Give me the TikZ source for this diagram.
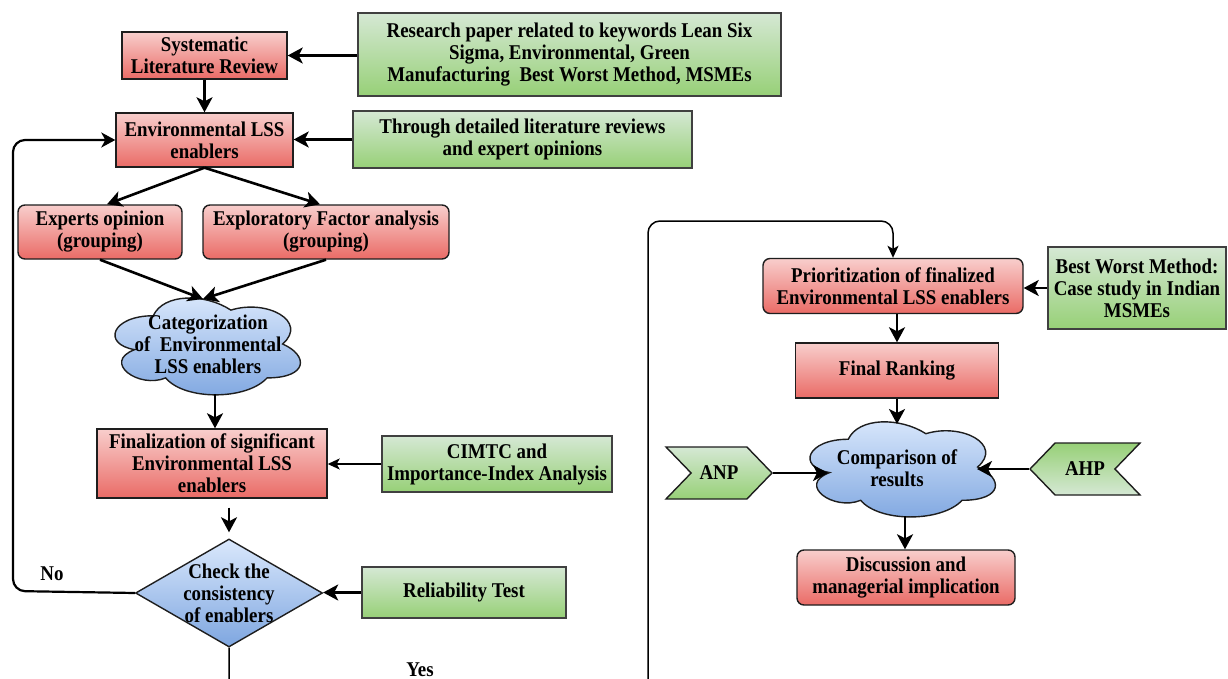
\documentclass[tikz,border=0pt]{standalone}
\usepackage{fontspec}
\setmainfont{Liberation Serif}[FakeStretch=0.9]
\usetikzlibrary{arrows.meta,shapes.geometric,shapes.symbols,calc}

\definecolor{redtop}{HTML}{F8CECC}
\definecolor{redbot}{HTML}{EA6B66}
\definecolor{greentop}{HTML}{D5E8D4}
\definecolor{greenbot}{HTML}{97D077}
\definecolor{bluetop}{HTML}{DAE8FC}
\definecolor{bluebot}{HTML}{7EA6E0}
\definecolor{edge}{HTML}{1E1E1E}

\tikzset{
  lbl/.style={font=\bfseries\fontsize{21}{22}\selectfont, align=center, text=black},
  redbox/.style={lbl, draw=edge, line width=1.4pt, top color=redtop, bottom color=redbot, inner sep=0pt},
  redround/.style={redbox, rounded corners=7pt},
  greenbox/.style={lbl, draw=edge!85, line width=1.4pt, top color=greentop, bottom color=greenbot, inner sep=0pt},
  bluefill/.style={draw=edge, line width=1.4pt, top color=bluetop, bottom color=bluebot},
  flow/.style={line width=2.6pt, draw=black, -{Stealth[length=15pt,width=16pt,inset=4pt]}},
  loopflow/.style={line width=2.2pt, draw=black, -{Stealth[length=14pt,width=15pt,inset=4pt]}},
  thinflow/.style={line width=1.5pt, draw=black, -{Stealth[length=12pt,width=11pt,inset=3pt]}},
}

% cloud outline inside the frame with top-left corner (#1,#2), width #3, height #4
\newcommand\cloudat[4]{%
  \begin{scope}[shift={(#1,#2)}, x=#3pt, y=-#4pt]
    \path[bluefill] (0.25,0.25)
      .. controls (0.05,0.25) and (0,0.5) .. (0.16,0.55)
      .. controls (0,0.66) and (0.18,0.9) .. (0.31,0.8)
      .. controls (0.4,1) and (0.7,1) .. (0.8,0.8)
      .. controls (1,0.8) and (1,0.6) .. (0.875,0.5)
      .. controls (1,0.3) and (0.8,0.1) .. (0.625,0.2)
      .. controls (0.5,0.05) and (0.3,0.05) .. (0.25,0.25) -- cycle;
  \end{scope}}

\begin{document}
\begin{tikzpicture}[x=1pt, y=-1pt]
  \useasboundingbox (0,0) rectangle (1228,679);
  \fill[white] (0,0) rectangle (1228,679);
  \clip (0,0) rectangle (1228,679);

  % ---------- left column ----------
  \node[redbox, minimum width=165pt, minimum height=47pt] (slr) at (204.5,55.5)
    {Systematic\\Literature Review};
  \node[greenbox, minimum width=423pt, minimum height=83pt] (research) at (569.5,54.5)
    {Research paper related to keywords Lean Six\\Sigma, Environmental, Green\\Manufacturing~ Best Worst Method, MSMEs};
  \node[redbox, minimum width=177pt, minimum height=54pt] (env) at (204.5,140)
    {Environmental LSS\\enablers};
  \node[greenbox, minimum width=339pt, minimum height=57pt] (through) at (522.5,139.5)
    {Through detailed literature reviews\\and expert opinions};
  \node[redround, minimum width=164pt, minimum height=54pt] (experts) at (100,232)
    {Experts opinion\\(grouping)};
  \node[redround, minimum width=246pt, minimum height=54pt] (efa) at (326,232)
    {Exploratory Factor analysis\\(grouping)};

  \cloudat{101.5}{287.5}{207}{113}
  \node[lbl] (cat) at (208,344) {Categorization\\of~ Environmental\\LSS enablers};
  \coordinate (cat-n) at (203,299);
  \coordinate (cat-s) at (215,394);

  \node[redbox, minimum width=230pt, minimum height=69pt] (final) at (212,463.5)
    {Finalization of significant\\Environmental LSS\\enablers};
  \node[greenbox, minimum width=230pt, minimum height=56pt] (cimtc) at (497,464)
    {CIMTC and\\Importance-Index Analysis};

  \node[diamond, bluefill, minimum width=187pt, minimum height=108pt, inner sep=0pt] (check) at (229,593) {};
  \node[lbl] (checktxt) at (229,593) {Check the\\consistency\\of enablers};
  \node[greenbox, minimum width=204pt, minimum height=51pt] (rel) at (464,592.5) {Reliability Test};

  \node[lbl] (no) at (52,574) {No};
  \node[lbl] (yes) at (420,670) {Yes};

  % ---------- right column ----------
  \node[redround, minimum width=260pt, minimum height=55pt] (prior) at (893,286)
    {Prioritization of finalized\\Environmental LSS enablers};
  \node[greenbox, minimum width=178pt, minimum height=82pt] (bwm) at (1137,288)
    {Best Worst Method:\\Case study in Indian\\MSMEs};
  \node[redbox, minimum width=203pt, minimum height=55pt] (rank) at (897,370.5) {Final Ranking};

  \cloudat{796.5}{411.5}{207}{111}
  \node[lbl] (comp) at (897,468) {Comparison of\\results};
  \coordinate (comp-n) at (897,424);
  \coordinate (comp-w) at (828,473);
  \coordinate (comp-e) at (977,469);
  \coordinate (comp-s) at (905,516);

  \node[lbl, signal, signal to=east, signal from=west, signal pointer angle=92,
        draw=edge, line width=1.4pt, top color=greentop, bottom color=greenbot,
        minimum width=106pt, minimum height=52pt, inner sep=0pt] (anp) at (719,473) {ANP};
  \node[lbl, signal, signal to=west, signal from=east, signal pointer angle=92,
        draw=edge, line width=1.4pt, top color=greenbot, bottom color=greentop,
        minimum width=110pt, minimum height=52pt, inner sep=0pt] (ahp) at (1085,469) {AHP};

  \node[redround, minimum width=218pt, minimum height=55pt] (disc) at (906,577.5)
    {Discussion and\\managerial implication};

  % ---------- connectors ----------
  \draw[flow] (research.west |- slr.east) -- (slr.east);
  \draw[flow] (slr.south) -- (env.north);
  \draw[flow] (through.west) -- (through.west -| env.east);
  \draw[flow] (env.south) -- ([xshift=7pt]experts.north);
  \draw[flow] (env.south) -- ([xshift=-6pt]efa.north);
  \draw[flow] (experts.south) -- (cat-n);
  \draw[flow] (efa.south) -- (cat-n);
  \draw[flow] (cat-s) -- (cat-s |- final.north);
  \draw[thinflow] (cimtc.west) -- (cimtc.west -| final.east);
  \draw[flow, shorten <=9pt, shorten >=6pt] (final.south -| check.north) -- (check.north);
  \draw[flow] (rel.west) -- (rel.west -| check.east);
  \draw[loopflow, rounded corners=12pt] (check.west) -- (13,591) -- (13,140) -- (env.west);
  \draw[thinflow, rounded corners=12pt] (check.south) -- (229,720) -- (648,720)
    -- (648,221) -- (893,221) -- (prior.north);

  \draw[flow] (bwm.west) -- (bwm.west -| prior.east);
  \draw[flow] (rank.north |- prior.south) -- (rank.north);
  \draw[flow] (rank.south) -- (comp-n);
  \draw[flow] (anp.east) -- (comp-w);
  \draw[flow] (ahp.west) -- (comp-e);
  \draw[flow] (comp-s) -- (comp-s |- disc.north);
\end{tikzpicture}
\end{document}
